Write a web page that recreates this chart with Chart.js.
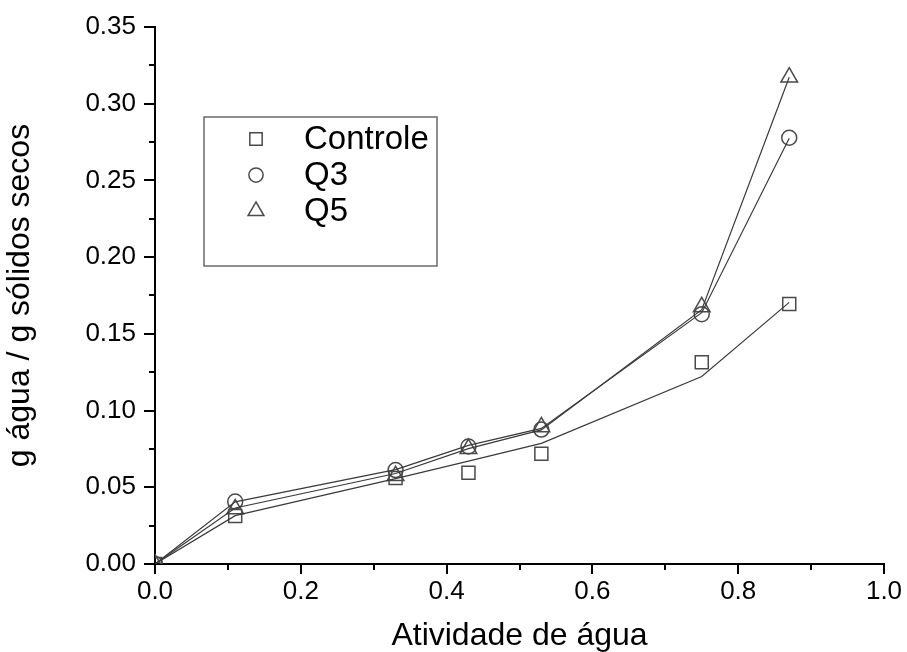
<!DOCTYPE html>
<html><head><meta charset="utf-8">
<script src="https://cdn.jsdelivr.net/npm/chart.js@4.4.1/dist/chart.umd.min.js"></script>
<style>html,body{margin:0;padding:0;background:#fff;}#wrap{width:907px;height:652px;}</style>
</head><body><div id="wrap"><canvas id="c" width="907" height="652"></canvas></div>
<script>
// Water activity (x)
const aw = [0, 0.11, 0.33, 0.43, 0.53, 0.75, 0.87];
// Experimental values (markers)
const controleObs = [0, 0.0313, 0.056, 0.0595, 0.0718, 0.1315, 0.1694];
const q3Obs       = [0, 0.0407, 0.0612, 0.0766, 0.0876, 0.1628, 0.2778];
const q5Obs       = [0, 0.0358, 0.0575, 0.0752, 0.0893, 0.1676, 0.3172];
// Fitted model values (lines)
const controleFit = [0, 0.0315, 0.0556, 0.067, 0.0786, 0.1222, 0.1705];
const q3Fit       = [0, 0.0405, 0.0615, 0.0773, 0.0884, 0.1638, 0.2775];
const q5Fit       = [0, 0.0365, 0.059, 0.0752, 0.0874, 0.1658, 0.3173];
const seriesNames = ['Controle', 'Q3', 'Q5'];
const xTicks = [0, 0.2, 0.4, 0.6, 0.8, 1.0];
const yTicks = [0, 0.05, 0.10, 0.15, 0.20, 0.25, 0.30, 0.35];

const toPts = (xs, ys) => xs.map((x, i) => ({x: x, y: ys[i]}));
const markerColor = '#4a4a4a';
const lineColor = '#3a3a3a';
const FONT = '"Liberation Sans", Arial, sans-serif';
const styles = [
  {pointStyle: 'rect', radius: 9.2},
  {pointStyle: 'circle', radius: 7.5},
  {pointStyle: 'triangle', radius: 9.6}
];
const obs = [controleObs, q3Obs, q5Obs];
const fits = [controleFit, q3Fit, q5Fit];

const datasets = [];
fits.forEach((f, i) => datasets.push({
  label: seriesNames[i] + ' ajuste', data: toPts(aw, f), showLine: true,
  borderColor: lineColor, borderWidth: 1.2, pointRadius: 0, fill: false, tension: 0
}));
obs.forEach((o, i) => datasets.push({
  label: seriesNames[i], data: toPts(aw, o), showLine: false,
  pointStyle: styles[i].pointStyle, pointRadius: styles[i].radius,
  pointBorderColor: markerColor, pointBackgroundColor: 'rgba(0,0,0,0)', pointBorderWidth: 1.5
}));

function drawMarker(ctx, style, r, x, y) {
  ctx.beginPath();
  if (style === 'rect') {
    const s = Math.SQRT1_2 * r;
    ctx.rect(x - s, y - s, 2 * s, 2 * s);
  } else if (style === 'circle') {
    ctx.arc(x, y, r, 0, Math.PI * 2);
  } else {
    ctx.moveTo(x, y - r);
    ctx.lineTo(x + Math.sin(2 * Math.PI / 3) * r, y + r / 2);
    ctx.lineTo(x - Math.sin(2 * Math.PI / 3) * r, y + r / 2);
    ctx.closePath();
  }
  ctx.stroke();
}

const decor = {
  id: 'decor',
  afterDraw(chart) {
    const ctx = chart.ctx;
    const xs = chart.scales.x, ys = chart.scales.y;
    ctx.save();
    ctx.strokeStyle = '#000';
    ctx.lineWidth = 2;
    for (let i = 0; i <= 10; i++) {
      const px = Math.round(xs.getPixelForValue(i / 10));
      const len = i % 2 === 0 ? 10 : 6;
      ctx.beginPath(); ctx.moveTo(px, ys.bottom); ctx.lineTo(px, ys.bottom + len); ctx.stroke();
    }
    for (let i = 0; i <= 14; i++) {
      const py = Math.round(ys.getPixelForValue(i * 0.025));
      const len = i % 2 === 0 ? 11 : 6;
      ctx.beginPath(); ctx.moveTo(xs.left, py); ctx.lineTo(xs.left - len, py); ctx.stroke();
    }
    // legend
    const a = chart.chartArea;
    const bx = a.left + 49, by = a.top + 90, bw = 233, bh = 149;
    ctx.strokeStyle = '#6a6a6a';
    ctx.lineWidth = 1.5;
    ctx.strokeRect(bx, by, bw, bh);
    ctx.font = '33px ' + FONT;
    ctx.textBaseline = 'middle';
    ctx.textAlign = 'left';
    for (let i = 0; i < 3; i++) {
      const ry = by + 22 + i * 36;
      ctx.strokeStyle = markerColor;
      ctx.lineWidth = 1.5;
      drawMarker(ctx, styles[i].pointStyle, styles[i].radius * 0.95, bx + 52, ry);
      ctx.fillStyle = '#000';
      ctx.fillText(seriesNames[i], bx + 100, ry + 1);
    }
    ctx.restore();
  }
};

new Chart(document.getElementById('c'), {
  type: 'scatter',
  data: {datasets: datasets},
  options: {
    responsive: false, animation: false, devicePixelRatio: 1, events: [],
    layout: {padding: {top: 27, right: 23, left: 0, bottom: 0}},
    plugins: {legend: {display: false}, tooltip: {enabled: false}},
    scales: {
      x: {
        type: 'linear', min: 0, max: 1,
        afterBuildTicks: s => { s.ticks = xTicks.map(v => ({value: v})); },
        afterFit: s => { s.height = 88; s.paddingLeft = 0; s.paddingRight = 0; },
        grid: {display: true, drawOnChartArea: false, drawTicks: false},
        border: {display: true, color: '#000', width: 2},
        ticks: {color: '#000', padding: 12, maxRotation: 0, autoSkip: false,
          font: {family: FONT, size: 26},
          callback: v => Number(v).toFixed(1)},
        title: {display: true, text: 'Atividade de água', color: '#000',
          font: {family: FONT, size: 32, lineHeight: 1},
          padding: {top: 0, bottom: 0}}
      },
      y: {
        type: 'linear', min: 0, max: 0.35,
        afterBuildTicks: s => { s.ticks = yTicks.map(v => ({value: v})); },
        afterFit: s => { s.width = 155; s.paddingTop = 0; s.paddingBottom = 0; },
        grid: {display: true, drawOnChartArea: false, drawTicks: false},
        border: {display: true, color: '#000', width: 2},
        ticks: {color: '#000', padding: 19, autoSkip: false,
          font: {family: FONT, size: 26},
          callback: v => Number(v).toFixed(2)},
        title: {display: true, text: 'g água / g sólidos secos', color: '#000',
          font: {family: FONT, size: 32, lineHeight: 1},
          padding: {top: 4, bottom: 0}}
      }
    }
  },
  plugins: [decor]
});
</script></body></html>
